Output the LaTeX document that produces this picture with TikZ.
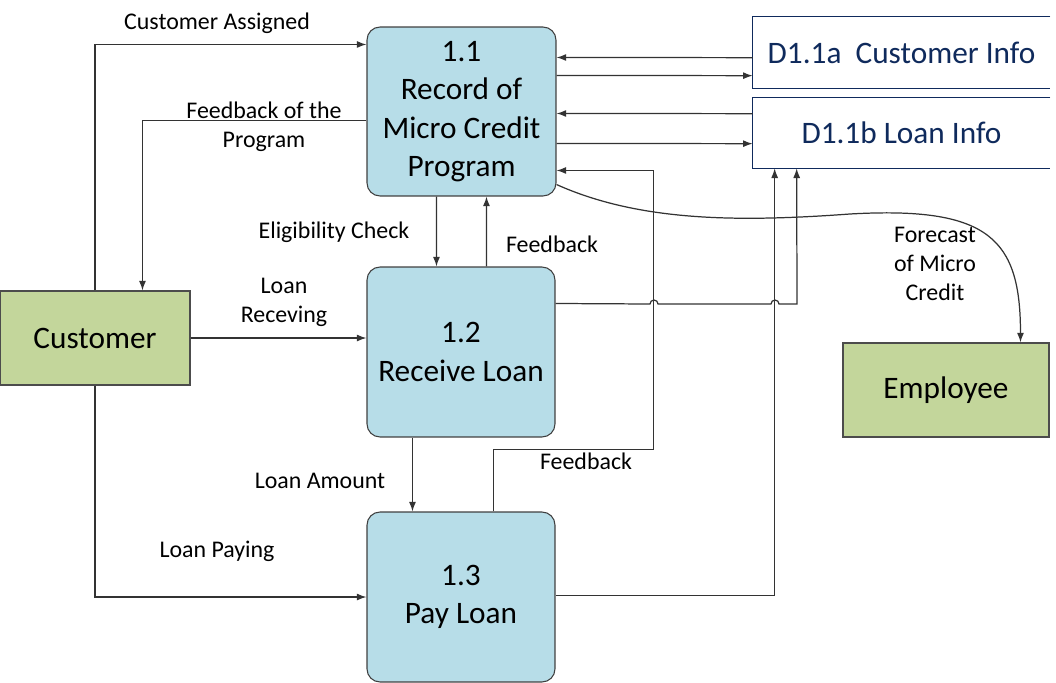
\documentclass[tikz,border=0pt]{standalone}
\usepackage{fontspec}
\setmainfont{Carlito}
\usepackage{tikz}
\usetikzlibrary{calc, arrows.meta, positioning}
\tikzset{>={Latex[length=5.5pt,width=4pt]}}
\definecolor{procblue}{HTML}{B7DDE8}
\definecolor{actgreen}{HTML}{C3D69B}
\definecolor{storeblue}{HTML}{0F2A5C}
\tikzset{
proc/.style={draw=black!75, fill=procblue, rounded corners=0.26cm, line width=0.6pt, minimum width=3.78cm, minimum height=3.38cm, align=center, font=\fontsize{17.8}{21.8}\selectfont},
actor/.style={draw=black!70, fill=actgreen, line width=0.6pt, align=center, font=\fontsize{17.8}{21.8}\selectfont},
store/.style={minimum width=5.94cm, text=storeblue, font=\fontsize{17.8}{21.8}\selectfont},
storeline/.style={draw=storeblue, line width=0.6pt},
flow/.style={->, draw=black!80, line width=0.7pt},
lbl/.style={align=center, font=\fontsize{13.6}{16.4}\selectfont}
}
\begin{document}
\begin{tikzpicture}[x=0.02cm, y=-0.02cm]
\useasboundingbox (0,0) rectangle (1056,683);
\node[proc] (p11) at (461.5,111.5) {1.1\\Record of\\Micro Credit\\Program};
\node[proc, minimum width=3.76cm, minimum height=3.4cm] (p12) at (461,352) {1.2\\Receive Loan};
\node[proc, minimum width=3.76cm, minimum height=3.4cm] (p13) at (461,597) {1.3\\Pay Loan};
\node[actor, minimum width=3.8cm, minimum height=1.88cm] (cust) at (95,338) {Customer};
\node[actor, minimum width=4.12cm, minimum height=1.88cm] (emp) at (946,390) {Employee};
\node[store, minimum height=1.42cm] (ds1) at (901.5,52.5) {D1.1a\ \ Customer Info};
\node[store, minimum height=1.4cm] (ds2) at (901.5,133) {D1.1b Loan Info};
\foreach \d in {ds1,ds2}
  \draw[storeline] (\d.north east) -| (\d.south west) -- (\d.south east);

\draw[flow] (cust.north) |- ($(p11.north west)+(0,18)$);
\draw[flow] ($(p11.north west)+(0,94)$) -| ($(cust.north west)+(143,0)$);
\draw[flow] ($(p11.south west)+(70,0)$) -- ($(p12.north west)+(70,0)$);
\draw[flow] ($(p12.north west)+(120,0)$) -- ($(p11.south west)+(120,0)$);
\draw[flow] (cust.east) -- (cust.east -| p12.west);
\draw[flow] ($(p12.south west)+(46,0)$) -- ($(p13.north west)+(46,0)$);
\draw[flow] (cust.south) |- (p13.west);
\draw[flow] ($(p13.north west)+(127,0)$) -- ++(0,-62) -- ++(160,0) |- ($(p11.north east)+(0,144)$);
\draw[flow] ($(ds1.north west)+(0,41)$) -- ($(p11.north east)+(0,31)$);
\draw[flow] ($(p11.north east)+(0,49)$) -- ($(ds1.north west)+(0,59)$);
\draw[flow] ($(ds2.north west)+(0,16)$) -- ($(p11.north east)+(0,87)$);
\draw[flow] ($(p11.north east)+(0,117)$) -- ($(ds2.north west)+(0,46)$);
\draw[flow] ($(p12.north east)+(0,37)$) -- (650,304) arc (180:0:0.08cm) -- (771,304) arc (180:0:0.08cm) -- (797,304) -- ($(ds2.south west)+(44,0)$);
\draw[flow] ($(p13.north east)+(0,84)$) -| ($(ds2.south west)+(22,0)$);
\draw[flow] ($(p11.south east)+(0,-12)$) .. controls (640,222) and (740,222) .. (850,214) .. controls (990,206) and ($(emp.north west)+(178,-103)$) .. ($(emp.north west)+(178,0)$);

\node[lbl] (l-assign) at (217,23) {Customer Assigned};
\node[lbl] (l-fbprog) at (264,127) {Feedback of the\\Program};
\node[lbl] (l-elig) at (334,232) {Eligibility Check};
\node[lbl] (l-fb12) at (552,244) {Feedback};
\node[lbl] (l-recv) at (284,302) {Loan\\Receving};
\node[lbl] (l-amount) at (320,481) {Loan Amount};
\node[lbl] (l-pay) at (217,551) {Loan Paying};
\node[lbl] (l-fb13) at (586,461) {Feedback};
\node[lbl] (l-forecast) at (935,264) {Forecast\\of Micro\\Credit};
\end{tikzpicture}
\end{document}
